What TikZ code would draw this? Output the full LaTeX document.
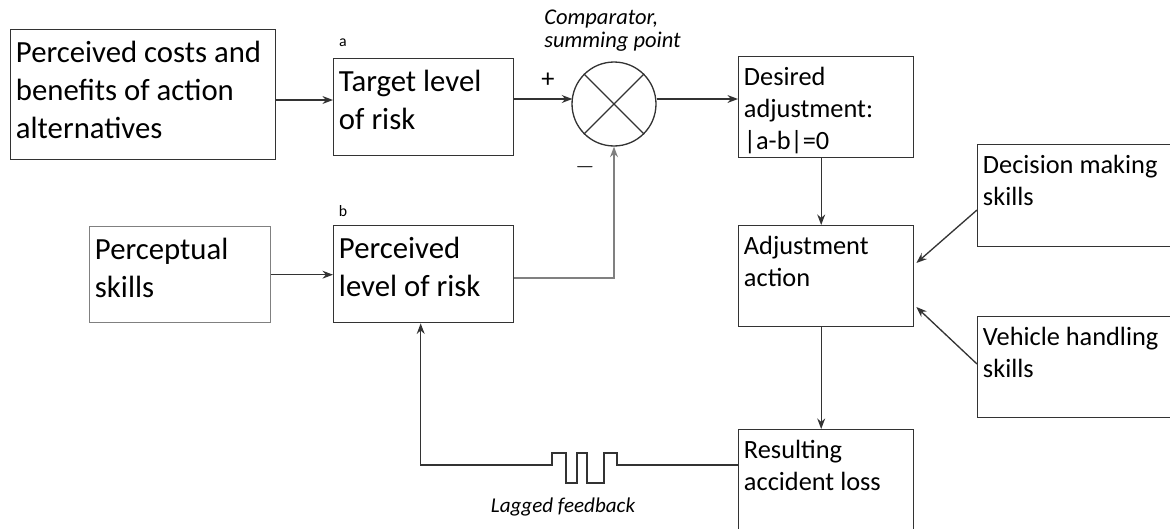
\documentclass[tikz,border=0pt]{standalone}
\usepackage{fontspec}
\setmainfont{Carlito}
\usepackage{xcolor}
\usetikzlibrary{arrows.meta, positioning, calc}

\definecolor{linegray}{HTML}{333333}
\definecolor{softgray}{HTML}{808080}
\newcommand{\boxtext}[3]{\parbox[c][\dimexpr#2cm-7pt][t]{\dimexpr#1cm-6pt}{\strut #3}}

\begin{document}
\begin{tikzpicture}[
    x=0.02cm, y=-0.02cm,
    box/.style={draw=linegray, line width=0.8pt, anchor=north west, inner xsep=3pt, inner ysep=3.5pt},
    big/.style={font=\fontsize{17.5}{21.6}\selectfont},
    small/.style={font=\fontsize{15}{18.2}\selectfont},
    note/.style={font=\fontsize{12}{13}\selectfont\itshape, align=center},
    tag/.style={font=\fontsize{9}{10}\selectfont, inner sep=0pt},
    line/.style={draw=linegray, line width=0.75pt},
    arr/.style={line, -{Stealth[length=6pt, width=4.5pt]}}
]
    \clip (0,0) rectangle (1170,528);

    \node[box, big] (pc) at (10,29) {\boxtext{5.3}{2.6}{Perceived costs and\\benefits of action\\alternatives}};
    \node[box, big] (tl) at (333,58) {\boxtext{3.6}{1.94}{Target level\\of risk}};
    \node[box, big, draw=softgray] (ps) at (89,226) {\boxtext{3.62}{1.92}{Perceptual\\skills}};
    \node[box, big] (pl) at (333,225) {\boxtext{3.6}{1.94}{Perceived\\level of risk}};
    \node[box, small] (des) at (738,56) {\boxtext{3.5}{2.02}{Desired\\adjustment:\\|a-b|=0}};
    \node[box, small] (adj) at (738,225) {\boxtext{3.5}{2.02}{Adjustment\\action}};
    \node[box, small] (res) at (738,429) {\boxtext{3.5}{2.4}{Resulting\\accident loss}};
    \node[box, small] (dec) at (977,144) {\boxtext{4.0}{2.04}{Decision making\\skills}};
    \node[box, small] (veh) at (977,316) {\boxtext{4.0}{2.02}{Vehicle handling\\skills}};

    \node[tag] (ta) at (343,43) {a};
    \node[tag] (tb) at (343,211) {b};

    \node[draw=linegray, line width=0.75pt, circle, minimum size=1.68cm, inner sep=0pt] (cmp) at (614,104) {};
    \draw[line] (cmp.north west) -- (cmp.south east);
    \draw[line] (cmp.north east) -- (cmp.south west);
    \node[note, font=\fontsize{12.8}{13}\selectfont\itshape, align=left, anchor=west, inner sep=0pt] (cmpl) at (544,31) {Comparator,\\summing point};
    \node[font=\fontsize{15}{16}\selectfont] (plus) at (548,80) {+};
    \node[font=\fontsize{15}{16}\selectfont] (minus) at (585,167) {$-$};

    \draw[arr] ($(pc.north east)+(0,71)$) -- ($(tl.north west)+(0,42)$);
    \draw[arr] ($(tl.north east)+(0,41)$) -- ($(cmp.west)+(1,-5)$);
    \draw[arr] ($(cmp.east)+(0,-5)$) -- ($(des.north west)+(0,43)$);
    \draw[arr, draw=softgray] ($(pl.north east)+(0,53)$) -| (cmp.south);
    \draw[arr] (ps.east) -- (ps.east -| pl.west);
    \draw[arr] ($(des.south)+(-5,0)$) -- ($(adj.north)+(-5,0)$);
    \draw[arr] ($(adj.south)+(-5,0)$) -- ($(res.north)+(-5,0)$);
    \draw[arr] ($(dec.north west)+(0,66)$) -- ($(adj.north east)+(2,38)$);
    \draw[arr] ($(veh.north west)+(0,48)$) -- ($(adj.north east)+(2,82)$);

    \draw[arr] ($(res.north west)+(0,36)$) -- ++(-121,0) -- ++(0,-12) -- ++(-13,0) -- ++(0,30)
        -- ++(-17,0) -- ++(0,-30) -- ++(-10,0) -- ++(0,30) -- ++(-11,0) -- ++(0,-30)
        -- ++(-14,0) -- ++(0,12) -| ($(pl.south)+(-3,0)$);
    \node[note] (lag) at (563,507) {Lagged feedback};
\end{tikzpicture}
\end{document}
